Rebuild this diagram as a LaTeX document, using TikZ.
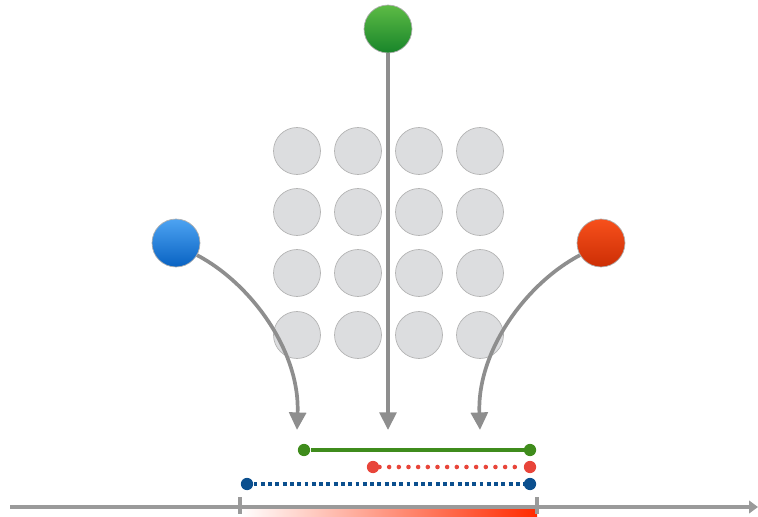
\documentclass[tikz,border=0pt]{standalone}
\usetikzlibrary{arrows.meta}

\definecolor{ballgrey}{HTML}{DCDDDF}
\definecolor{rimgrey}{HTML}{B4B4B4}
\definecolor{pathgrey}{HTML}{8E8E8E}
\definecolor{axisgrey}{HTML}{9A9A9A}
\definecolor{lgreen}{HTML}{3F8C1C}
\definecolor{lred}{HTML}{E8453A}
\definecolor{lblue}{HTML}{0B4F8E}
\definecolor{barred}{HTML}{FF2A00}
\definecolor{gtop}{HTML}{5DBB45}
\definecolor{gbot}{HTML}{18852A}
\definecolor{btop}{HTML}{4DA3F2}
\definecolor{bbot}{HTML}{0862C2}
\definecolor{rtop}{HTML}{F7501C}
\definecolor{rbot}{HTML}{CC2E04}

\tikzset{
  atom/.style={circle, draw=rimgrey, fill=ballgrey, line width=0.4pt, minimum size=0.94cm, inner sep=0pt},
  probe/.style={circle, draw=pathgrey!70, line width=0.4pt, minimum size=0.96cm, inner sep=0pt},
  route/.style={draw=pathgrey, line width=2.1pt, -{Triangle[width=9.5pt,length=10pt]}},
  endpt/.style={circle, fill=#1, minimum size=7pt, inner sep=0pt}
}

\begin{document}
\begin{tikzpicture}[x=0.02cm, y=-0.02cm]
\useasboundingbox (0,0) rectangle (758,517);

% grid of grey atoms
\foreach \i/\x in {1/297,2/358,3/419,4/480}
  \foreach \j/\y in {1/151,2/212,3/273,4/335}
    \node[atom] (a\i\j) at (\x,\y) {};

% the three incoming balls
\node[probe, top color=gtop, bottom color=gbot] (gball) at (388,29) {};
\node[probe, top color=btop, bottom color=bbot] (bball) at (176,243) {};
\node[probe, top color=rtop, bottom color=rbot] (rball) at (601,243) {};

\coordinate (gtip) at (388,430);
\coordinate (btip) at (297,430);
\coordinate (rtip) at (480,430);

\draw[route] (gball) -- (gtip);
\draw[route] (bball.-30) .. controls (250,283) and (300,350) .. (btip);
\draw[route] (rball.210) .. controls (527,283) and (477,350) .. (rtip);

% intervals
\node[endpt=lgreen] (g1) at (304,450) {};
\node[endpt=lgreen] (g2) at (530,450) {};
\node[endpt=lred] (r1) at (373,467) {};
\node[endpt=lred] (r2) at (530,467) {};
\node[endpt=lblue] (b1) at (247,484) {};
\node[endpt=lblue] (b2) at (530,484) {};

\draw[lgreen, line width=2.1pt] (g1) -- (g2);
\draw[lred, line width=2.6pt, line cap=round, dash pattern=on 0pt off 5.5pt] (r1) -- (r2);
\draw[lblue, line width=2.3pt, dash pattern=on 2.2pt off 1.95pt] (b1) -- (b2);

% axis with the shaded range
\coordinate (lo) at (240,507);
\coordinate (hi) at (537,507);
\shade[left color=white, right color=barred] (240,509) rectangle (537,517);
\draw[axisgrey, line width=2.5pt, -{Triangle[width=7pt,length=5pt]}] (10,507) -- (758,507);
\draw[axisgrey, line width=1.8pt] (lo) ++(0,-10) -- ++(0,17);
\draw[axisgrey, line width=1.8pt] (hi) ++(0,-10) -- ++(0,17);

\end{tikzpicture}
\end{document}
